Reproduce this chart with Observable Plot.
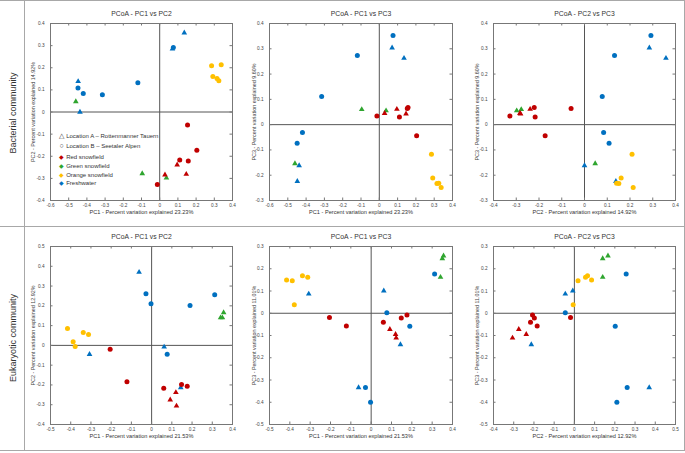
<!DOCTYPE html>
<html><head><meta charset="utf-8">
<script src="https://cdn.jsdelivr.net/npm/d3@7"></script>
<script src="https://cdn.jsdelivr.net/npm/@observablehq/plot@0.6"></script>
<style>
body{margin:0;background:#fff;}
#wrap{position:relative;width:685px;height:453px;overflow:hidden;font-family:"Liberation Sans",Arial,sans-serif;background:#fff;}
.panel{position:absolute;}
.line{position:absolute;background:#a8a8a8;}
.rowlab{position:absolute;font-size:9px;color:#333;white-space:nowrap;transform:translate(-50%,-50%) rotate(-90deg);}
.leg{position:absolute;font-size:6px;color:#333;white-space:nowrap;line-height:1;transform:translateY(-50%);}
</style></head><body><div id="wrap"></div><script>
// ---------- data ----------
const groups = ["Red snowfield", "Green snowfield", "Orange snowfield", "Freshwater"];
const groupColors = ["#C00000", "#2FA52F", "#FFC000", "#0070C0"];
const locations = ["Location A \u2013 Rottenmanner Tauern", "Location B \u2013 Seetaler Alpen"];

// Bacterial community (group code, location code, PC1, PC2, PC3)
const bactGroup = ["F","F","F","F","F","F","F","F","F","G","G","G","R","R","R","R","R","R","R","R","O","O","O","O","O"];
const bactLoc   = ["A","A","B","B","B","B","B","A","A","A","A","A","A","A","A","B","B","B","B","B","B","B","B","B","B"];
const bactPC1 = [0.135,0.070,0.075,-0.120,-0.315,-0.420,-0.449,-0.448,-0.438,-0.461,-0.096,0.037,0.029,0.096,0.146,-0.013,0.110,0.153,0.157,0.204,0.285,0.338,0.292,0.315,0.325];
const bactPC2 = [0.358,0.285,0.292,0.132,0.078,0.084,0.108,0.138,0.000,0.047,-0.278,-0.298,-0.284,-0.239,-0.281,-0.328,-0.217,-0.059,-0.221,-0.173,0.209,0.214,0.161,0.151,0.141];
const bactPC3 = [0.263,0.304,0.353,0.273,0.111,-0.031,-0.074,-0.224,-0.162,-0.154,0.060,0.055,0.045,0.061,0.043,0.034,0.030,0.064,0.068,-0.044,-0.117,-0.249,-0.211,-0.233,-0.232];

// Eukaryotic community
const eukGroup = ["F","F","F","F","F","F","F","F","F","G","G","G","O","O","O","O","O","R","R","R","R","R","R","R","R"];
const eukLoc   = ["A","B","B","B","B","B","A","A","A","A","A","A","B","B","B","B","B","B","B","B","B","B","A","A","A"];
const eukPC1 = [-0.062,-0.028,-0.003,0.312,0.190,0.077,-0.307,0.062,0.144,0.356,0.350,0.341,-0.416,-0.388,-0.338,-0.312,-0.378,-0.205,-0.122,0.060,0.148,0.176,0.092,0.120,0.123];
const eukPC2 = [0.370,0.261,0.210,0.256,0.202,-0.045,-0.045,-0.008,-0.213,0.166,0.140,0.140,0.085,0.018,0.065,0.055,-0.006,-0.019,-0.184,-0.217,-0.198,-0.207,-0.275,-0.238,-0.306];
const eukPC3 = [-0.334,-0.334,-0.400,0.176,-0.058,0.002,0.087,0.101,-0.141,0.258,0.246,0.162,0.150,0.146,0.168,0.162,0.038,-0.019,-0.057,-0.041,-0.021,-0.008,-0.072,-0.095,-0.111];

// tick values
const ticksM6to4 = [-0.6,-0.5,-0.4,-0.3,-0.2,-0.1,0,0.1,0.2,0.3,0.4];
const ticksM5to4 = [-0.5,-0.4,-0.3,-0.2,-0.1,0,0.1,0.2,0.3,0.4];
const ticksM4to4 = [-0.4,-0.3,-0.2,-0.1,0,0.1,0.2,0.3,0.4];
const ticksM3to4 = [-0.3,-0.2,-0.1,0,0.1,0.2,0.3,0.4];
const ticksM4to5 = [-0.4,-0.3,-0.2,-0.1,0,0.1,0.2,0.3,0.4,0.5];
const ticksM5to3 = [-0.5,-0.4,-0.3,-0.2,-0.1,0,0.1,0.2,0.3];

const bactLabels = {PC1: "PC1 - Percent variation explained 23.23%", PC2: "PC2 - Percent variation explained 14.92%", PC3: "PC3 - Percent variation explained 9.60%"};
const eukLabels  = {PC1: "PC1 - Percent variation explained 21.53%", PC2: "PC2 - Percent variation explained 12.92%", PC3: "PC3 - Percent variation explained 11.01%"};

// ---------- build tables ----------
const codeToGroup = {R: groups[0], G: groups[1], O: groups[2], F: groups[3]};
const bact = bactGroup.map((g, i) => ({group: codeToGroup[g], loc: bactLoc[i], PC1: bactPC1[i], PC2: bactPC2[i], PC3: bactPC3[i]}));
const euk = eukGroup.map((g, i) => ({group: codeToGroup[g], loc: eukLoc[i], PC1: eukPC1[i], PC2: eukPC2[i], PC3: eukPC3[i]}));

const wrap = document.getElementById("wrap");
const FONT = '"Liberation Sans", Arial, sans-serif';
const fmt = d => d === 0 ? "0" : (Math.round(d * 10) / 10).toString();

function panel(o) {
  const iw = o.width - o.mL - o.mR, ih = o.height - o.mT - o.mB, tl = 2.5;
  const xDom = [o.xTicks[0], o.xTicks[o.xTicks.length - 1]];
  const yDom = [o.yTicks[0], o.yTicks[o.yTicks.length - 1]];
  const svg = Plot.plot({
    width: o.width, height: o.height,
    marginLeft: o.mL, marginRight: o.mR, marginTop: o.mT, marginBottom: o.mB,
    style: {fontFamily: FONT, fontSize: "4.7px", color: "#444", background: "transparent", overflow: "visible"},
    x: {domain: xDom},
    y: {domain: yDom},
    color: {domain: groups, range: groupColors},
    marks: [
      Plot.ruleX([0], {stroke: "#555", strokeWidth: 1}),
      Plot.ruleY([0], {stroke: "#555", strokeWidth: 1}),
      Plot.tickX(o.xTicks, {x: d => d, insetTop: ih - tl, stroke: "#777"}),
      Plot.tickX(o.xTicks, {x: d => d, insetBottom: ih - tl, stroke: "#777"}),
      Plot.tickY(o.yTicks, {y: d => d, insetRight: iw - tl, stroke: "#777"}),
      Plot.tickY(o.yTicks, {y: d => d, insetLeft: iw - tl, stroke: "#777"}),
      Plot.frame({stroke: "#777"}),
      Plot.axisX(o.xTicks, {tickSize: 0, tickPadding: 3, tickFormat: fmt, label: null}),
      Plot.axisY(o.yTicks, {tickSize: 0, tickPadding: 6, tickFormat: fmt, label: null}),
      Plot.dot(o.data.filter(d => d.loc === "A"), {x: o.xKey, y: o.yKey, fill: "group", symbol: "triangle", r: 2.1}),
      Plot.dot(o.data.filter(d => d.loc === "B"), {x: o.xKey, y: o.yKey, fill: "group", symbol: "circle", r: 2.5}),
      Plot.text([o.title], {frameAnchor: "top", dy: -10, fontSize: 6.8, lineAnchor: "middle", textAnchor: "middle", fill: "#333"}),
      Plot.text([o.labels[o.xKey]], {frameAnchor: "bottom", dy: 12, fontSize: 5.6, lineAnchor: "middle", textAnchor: "middle", fill: "#333"}),
      Plot.text([o.labels[o.yKey]], {frameAnchor: "left", dx: o.ydx, rotate: -90, fontSize: 5.4, lineAnchor: "middle", textAnchor: "middle", fill: "#444"})
    ]
  });
  const div = document.createElement("div");
  div.className = "panel";
  div.style.left = o.left + "px";
  div.style.top = o.top + "px";
  div.appendChild(svg);
  wrap.appendChild(div);
}

const row1 = {top: 0, height: 226, mT: 23, mB: 26};
const row2 = {top: 226, height: 224, mT: 20, mB: 26};
const col1 = {left: 25, width: 212, mL: 25, mR: 5, ydx: -17};
const col2 = {left: 240, width: 217, mL: 29, mR: 5, ydx: -15};
const col3 = {left: 462, width: 218, mL: 31, mR: 5, ydx: -16.5};

panel({...row1, ...col1, data: bact, labels: bactLabels, xKey: "PC1", yKey: "PC2", xTicks: ticksM6to4, yTicks: ticksM4to4, title: "PCoA - PC1 vs PC2"});
panel({...row1, ...col2, data: bact, labels: bactLabels, xKey: "PC1", yKey: "PC3", xTicks: ticksM6to4, yTicks: ticksM3to4, title: "PCoA - PC1 vs PC3"});
panel({...row1, ...col3, data: bact, labels: bactLabels, xKey: "PC2", yKey: "PC3", xTicks: ticksM4to4, yTicks: ticksM3to4, title: "PCoA - PC2 vs PC3"});
panel({...row2, ...col1, data: euk, labels: eukLabels, xKey: "PC1", yKey: "PC2", xTicks: ticksM5to4, yTicks: [-0.4,-0.3,-0.2,-0.1,0,0.1,0.2,0.3,0.4,0.5], title: "PCoA - PC1 vs PC2"});
panel({...row2, ...col2, data: euk, labels: eukLabels, xKey: "PC1", yKey: "PC3", xTicks: ticksM5to4, yTicks: ticksM5to3, title: "PCoA - PC1 vs PC3"});
panel({...row2, ...col3, data: euk, labels: eukLabels, xKey: "PC2", yKey: "PC3", xTicks: ticksM4to5, yTicks: ticksM5to3, title: "PCoA - PC2 vs PC3"});

// ---------- frame lines ----------
function line(l, t, w, h) {
  const d = document.createElement("div");
  d.className = "line";
  Object.assign(d.style, {left: l + "px", top: t + "px", width: w + "px", height: h + "px"});
  wrap.appendChild(d);
}
line(0, 0, 685, 1);
line(24, 0, 1, 451);
line(0, 226, 685, 1);
line(0, 450, 685, 1);
line(684, 0, 1, 451);

// ---------- row labels ----------
function rowLabel(text, x, y) {
  const d = document.createElement("div");
  d.className = "rowlab";
  d.textContent = text;
  d.style.left = x + "px";
  d.style.top = y + "px";
  wrap.appendChild(d);
}
rowLabel("Bacterial community", 13, 113);
rowLabel("Eukaryotic community", 13, 338);

// ---------- legend ----------
function legItem(sym, color, text, x, y, symSize) {
  const d = document.createElement("div");
  d.className = "leg";
  d.style.left = x + "px";
  d.style.top = y + "px";
  const s = document.createElement("span");
  s.textContent = sym;
  s.style.color = color;
  s.style.fontSize = symSize + "px";
  s.style.display = "inline-block";
  s.style.width = "6px";
  s.style.textAlign = "center";
  d.appendChild(s);
  d.appendChild(document.createTextNode(" " + text));
  wrap.appendChild(d);
}
legItem("\u25B3", "#333", locations[0], 58.5, 135, 7);
legItem("\u25CB", "#333", locations[1], 58.5, 145, 7);
const legY = [157.3, 166, 174.7, 183];
groups.forEach((g, i) => legItem("\u25C6", groupColors[i], g, 58.5, legY[i], 5.5));
</script></body></html>
